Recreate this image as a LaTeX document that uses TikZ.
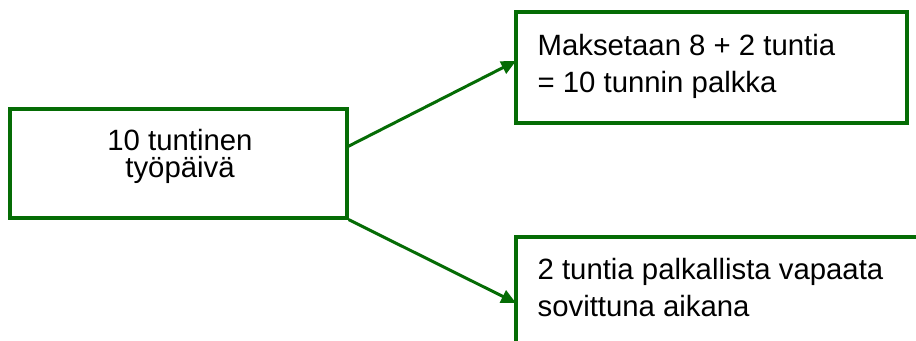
\documentclass[tikz,border=0pt]{standalone}
\usepackage{fontspec}
\setmainfont{Liberation Sans}
\usetikzlibrary{arrows.meta}

\definecolor{boxgreen}{RGB}{5,108,5}
\tikzset{every picture/.style={line width=2.4pt}}
\tikzset{
  box/.style={draw=boxgreen, line width=2.4pt, rectangle, inner sep=0pt},
  arr/.style={draw=boxgreen, line width=2.25pt, -{Triangle[length=11pt,width=10pt]}},
  lefttxt/.style={inner sep=0pt, align=center, font=\fontsize{22pt}{20pt}\selectfont},
  righttxt/.style={inner sep=0pt, align=left, font=\fontsize{22pt}{27.75pt}\selectfont},
}

\begin{document}
\begin{tikzpicture}[x=0.75pt,y=0.75pt,yscale=-1]

\useasboundingbox (0,0) rectangle (916,341);
\clip (0,0) rectangle (916,341);

% boxes
\node (day)  [box, minimum width=252.75pt, minimum height=81.75pt] at (178.5,163.5) {};
\node (pay)  [box, minimum width=293.25pt, minimum height=83.25pt] at (711.5,67.5) {};
\node (free) [box, minimum width=310.5pt,  minimum height=83.25pt] at (723,292.5) {};

% texts
\node (daytxt)  [lefttxt, anchor=north] at (180,127.5) {10 tuntinen\\työpäivä};
\node (paytxt)  [righttxt, anchor=north west] at (536,32.5) {Maksetaan 8 + 2 tuntia\\= 10 tunnin palkka};
\node (freetxt) [righttxt, anchor=north west] at (536,256.5) {2 tuntia palkallista vapaata\\sovittuna aikana};

% arrows
\coordinate (dayout) at (347,147);
\coordinate (payin)  at (516,61);
\coordinate (freein) at (516,303);
\draw [arr] (dayout) -- (payin);
\draw [arr] (day.south east) -- (freein);

\end{tikzpicture}
\end{document}
